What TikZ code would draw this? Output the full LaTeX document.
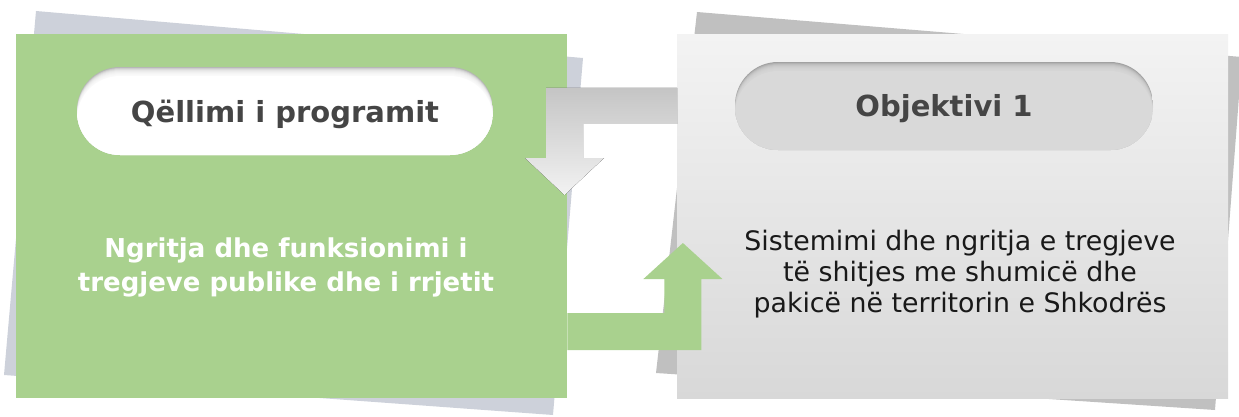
\documentclass[tikz,border=0pt]{standalone}
\usepackage{fontspec}
\setmainfont{DejaVu Sans}
\definecolor{grn}{HTML}{A9D18E}
\definecolor{shL}{HTML}{CDD1DA}
\definecolor{shR}{HTML}{C0C0C0}
\definecolor{boxtop}{HTML}{F3F3F3}
\definecolor{boxbot}{HTML}{D8D8D8}
\definecolor{headtxt}{HTML}{454545}
\definecolor{pillLedge}{HTML}{B5B5B5}
\definecolor{pillRedge}{HTML}{A0A0A0}
\definecolor{pillRface}{HTML}{D9D9D9}
\definecolor{arrtop}{HTML}{AEAEAE}
\definecolor{arrbot}{HTML}{F2F2F2}
\newcommand\mypill[6]{%
  \begin{scope}
    \clip[rounded corners=43pt] (#1,#2) rectangle (#3,#4);
    \fill[#5] (#1,#2) rectangle (#3,#4);
    \foreach \k in {1,...,8} {\fill[#6, opacity=0.3, rounded corners=43pt] (#1,#2+\k) rectangle (#3,#4+\k);}
    \fill[#6, rounded corners=43pt] (#1,#2+9) rectangle (#3,#4+9);
  \end{scope}}
\tikzset{
  panel/.style={rectangle, inner sep=0pt, minimum width=551pt, minimum height=364pt, anchor=north west},
  headline/.style={font=\bfseries\fontsize{29}{34}\selectfont, text=headtxt, anchor=base, inner sep=0pt},
}
\begin{document}
\begin{tikzpicture}[x=1pt,y=-1pt]
\useasboundingbox (0,0) rectangle (1239,417);
% tilted back sheets
\fill[shL] (36,11) -- (583,58) -- (553,415) -- (4,375) -- cycle;
\fill[shR] (697,12) -- (1242,57) -- (1215,410) -- (656,373) -- cycle;
% panels
\node[panel, fill=grn] (goal) at (16,34) {};
\node[panel, top color=boxtop, bottom color=boxbot] (obj) at (677,34) {};
% pills
\mypill{77}{67}{493}{155}{pillLedge}{white}
\mypill{735}{62}{1153}{150}{pillRedge}{pillRface}
\node[headline] (hL) at (285,123) {Qëllimi i programit};
\node[headline] (hR) at (944,117) {Objektivi 1};
% body texts
\node[align=center, font=\bfseries\fontsize{26}{34}\selectfont, text=white, anchor=base, inner sep=0pt] (bL) at (286,291) {Ngritja dhe funksionimi i\\tregjeve publike dhe i rrjetit};
\node[align=center, font=\fontsize{26.8}{31}\selectfont, text=black!90, anchor=base, inner sep=0pt] (bR) at (960,312) {Sistemimi dhe ngritja e tregjeve\\të shitjes me shumicë dhe\\pakicë në territorin e Shkodrës};
% grey arrow from objective panel down into goal panel
\fill[top color=arrtop, bottom color=arrbot] (obj.north west) ++(0,54) -- ++(-131,0) -- ++(0,70) -- ++(-21,0) -- ++(39.5,37) -- ++(39.5,-37) -- ++(-21,0) -- ++(0,-34) -- ++(94,0) -- cycle;
% green arrow from goal panel up into objective panel
\fill[grn] (goal.north east) ++(0,279) -- ++(97,0) -- ++(0,-34) -- ++(-21,0) -- ++(39.5,-36) -- ++(39.5,36) -- ++(-21,0) -- ++(0,71) -- ++(-134,0) -- cycle;
\end{tikzpicture}
\end{document}
